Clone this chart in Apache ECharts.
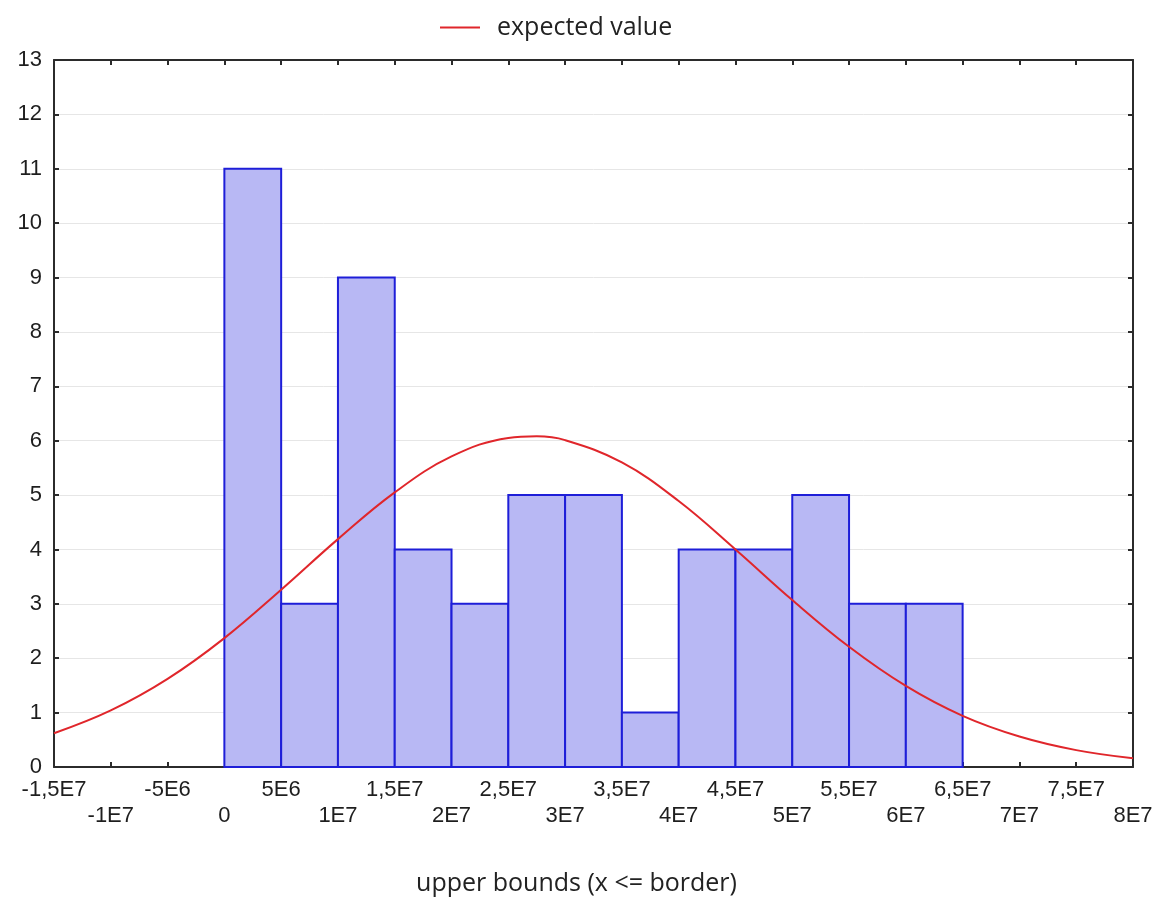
<!DOCTYPE html>
<html>
<head>
<meta charset="utf-8">
<script src="https://cdn.jsdelivr.net/npm/echarts@6/dist/echarts.min.js"></script>
<style>
html,body{margin:0;padding:0;background:#fff;}
#chart{width:1161px;height:905px;}
</style>
</head>
<body>
<div id="chart"></div>
<script>
// Histogram bins (lower / upper bounds) and counts
const binLower = [0, 5e6, 1e7, 1.5e7, 2e7, 2.5e7, 3e7, 3.5e7, 4e7, 4.5e7, 5e7, 5.5e7, 6e7];
const binUpper = [5e6, 1e7, 1.5e7, 2e7, 2.5e7, 3e7, 3.5e7, 4e7, 4.5e7, 5e7, 5.5e7, 6e7, 6.5e7];
const counts   = [11, 3, 9, 4, 3, 5, 5, 1, 4, 4, 5, 3, 3];

// Expected value curve
const curveX = [-1.5e7, -1e7, -5e6, 0, 5e6, 1e7, 1.5e7, 2e7, 2.5e7, 2.75e7, 3e7, 3.5e7, 4e7, 4.5e7, 5e7, 5.5e7, 6e7, 6.5e7, 7e7, 7.5e7, 8e7];
const curveY = [0.62, 1.04, 1.62, 2.37, 3.26, 4.19, 5.05, 5.71, 6.05, 6.08, 6.01, 5.60, 4.89, 4.00, 3.07, 2.21, 1.49, 0.94, 0.56, 0.31, 0.16];

// Tick labels
const xTickValues = [-1.5e7, -1e7, -5e6, 0, 5e6, 1e7, 1.5e7, 2e7, 2.5e7, 3e7, 3.5e7, 4e7, 4.5e7, 5e7, 5.5e7, 6e7, 6.5e7, 7e7, 7.5e7, 8e7];
const xTickLabels = ['-1,5E7', '-1E7', '-5E6', '0', '5E6', '1E7', '1,5E7', '2E7', '2,5E7', '3E7', '3,5E7', '4E7', '4,5E7', '5E7', '5,5E7', '6E7', '6,5E7', '7E7', '7,5E7', '8E7'];
const yTickLabels = ['0','1','2','3','4','5','6','7','8','9','10','11','12','13'];

const barData = binLower.map((l, i) => [l, binUpper[i], counts[i]]);
const curveData = curveX.map((x, i) => [x, curveY[i]]);

const chart = echarts.init(document.getElementById('chart'), null, {renderer: 'canvas'});

const axisLineStyle = {color: '#2b2b2b', width: 2};
const tickStyle = {show: true, inside: true, length: 5, lineStyle: {color: '#2b2b2b', width: 2}};
const labelFont = 'Liberation Sans, Arial, sans-serif';

function xLabel(v) {
  let idx = -1;
  for (let i = 0; i < xTickValues.length; i++) {
    if (Math.abs(xTickValues[i] - v) < 1) { idx = i; break; }
  }
  if (idx < 0) return '';
  return (idx % 2 === 0) ? xTickLabels[idx] : '\n' + xTickLabels[idx];
}

chart.setOption({
  animation: false,
  backgroundColor: '#ffffff',
  legend: {
    show: true,
    left: 435,
    top: 10,
    itemWidth: 40,
    itemHeight: 2,
    icon: 'rect',
    textStyle: {fontFamily: 'Open Sans, sans-serif', fontSize: 25, color: '#222', padding: [0, 0, 0, 12]},
    data: [{name: 'expected value', itemStyle: {color: '#e0262b'}}]
  },
  grid: {left: 54, right: 28, top: 60, bottom: 138, containLabel: false},
  xAxis: [{
    type: 'value',
    min: -1.5e7,
    max: 8e7,
    interval: 5e6,
    position: 'bottom',
    axisLine: {show: true, onZero: false, lineStyle: axisLineStyle},
    axisTick: tickStyle,
    splitLine: {show: false},
    axisLabel: {
      show: true,
      margin: 10,
      fontSize: 22,
      lineHeight: 26,
      fontFamily: labelFont,
      color: '#1e1e1e',
      showMinLabel: true,
      showMaxLabel: true,
      hideOverlap: false,
      formatter: xLabel
    },
    name: 'upper bounds (x <= border)',
    nameLocation: 'middle',
    nameGap: 104,
    nameTextStyle: {fontFamily: 'Open Sans, sans-serif', fontSize: 25, color: '#222', padding: [0, 34, 0, 0]}
  }, {
    type: 'value',
    min: -1.5e7,
    max: 8e7,
    interval: 5e6,
    position: 'top',
    axisLine: {show: true, onZero: false, lineStyle: axisLineStyle},
    axisTick: tickStyle,
    axisLabel: {show: false},
    splitLine: {show: false}
  }],
  yAxis: [{
    type: 'value',
    min: 0,
    max: 13,
    interval: 1,
    position: 'left',
    axisLine: {show: true, onZero: false, lineStyle: axisLineStyle},
    axisTick: tickStyle,
    splitLine: {show: true, lineStyle: {color: '#e6e6e6', width: 1}},
    axisLabel: {
      show: true,
      margin: 12,
      fontSize: 22,
      fontFamily: labelFont,
      color: '#1e1e1e',
      formatter: (v) => yTickLabels[Math.round(v)] || ''
    }
  }, {
    type: 'value',
    min: 0,
    max: 13,
    interval: 1,
    position: 'right',
    axisLine: {show: true, onZero: false, lineStyle: axisLineStyle},
    axisTick: tickStyle,
    axisLabel: {show: false},
    splitLine: {show: false}
  }],
  series: [{
    name: 'histogram',
    type: 'custom',
    xAxisIndex: 0,
    yAxisIndex: 0,
    z: 2,
    encode: {x: [0, 1], y: 2},
    data: barData,
    renderItem: function (params, api) {
      const x0 = api.value(0), x1 = api.value(1), y = api.value(2);
      const p0 = api.coord([x0, y]);
      const p1 = api.coord([x1, 0]);
      return {
        type: 'rect',
        shape: {x: p0[0], y: p0[1], width: p1[0] - p0[0], height: p1[1] - p0[1]},
        style: {fill: '#b8b8f4', stroke: '#1e1ed8', lineWidth: 2}
      };
    }
  }, {
    name: 'expected value',
    type: 'line',
    xAxisIndex: 0,
    yAxisIndex: 0,
    z: 5,
    data: curveData,
    smooth: 0.4,
    symbol: 'none',
    lineStyle: {color: '#e0262b', width: 2},
    itemStyle: {color: '#e0262b'}
  }]
});
</script>
</body>
</html>
